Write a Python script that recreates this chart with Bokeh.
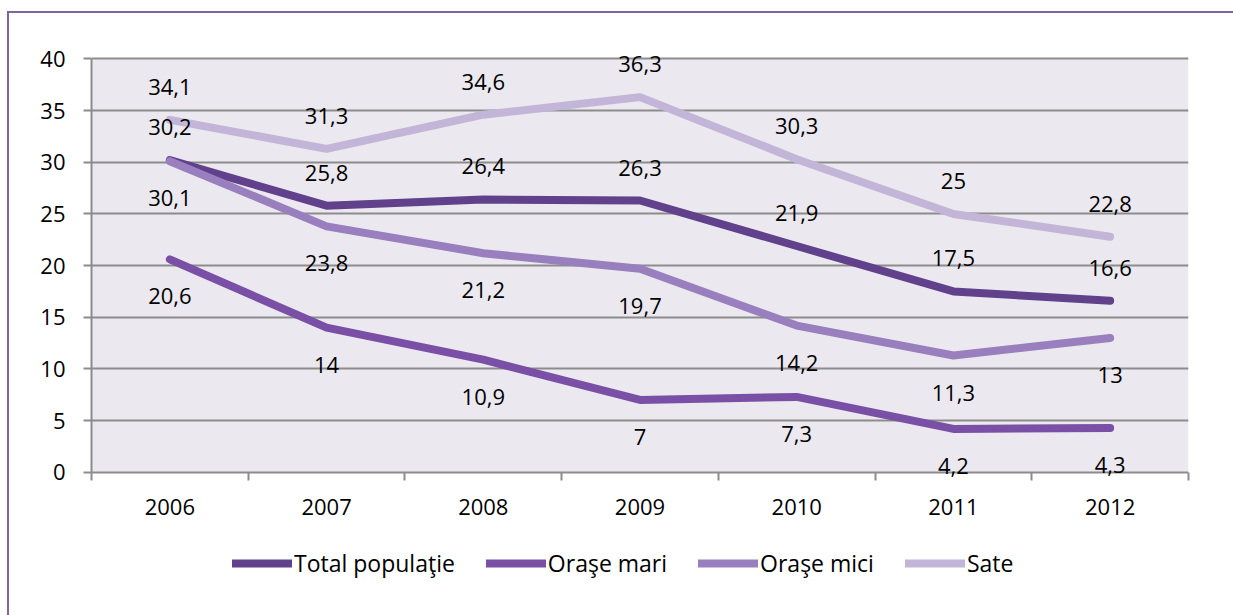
from bokeh.plotting import figure
from bokeh.models import (Range1d, FixedTicker, Legend, LegendItem,
                          ColumnDataSource, BoxAnnotation)
from bokeh.layouts import column
from bokeh.core.properties import value
from bokeh.embed import file_html
from bokeh.resources import INLINE

# ---- data ----
years = [2006, 2007, 2008, 2009, 2010, 2011, 2012]
total_populatie = [30.2, 25.8, 26.4, 26.3, 21.9, 17.5, 16.6]
orase_mari = [20.6, 14, 10.9, 7, 7.3, 4.2, 4.3]
orase_mici = [30.1, 23.8, 21.2, 19.7, 14.2, 11.3, 13]
sate = [34.1, 31.3, 34.6, 36.3, 30.3, 25, 22.8]
series_names = ["Total populaţie", "Oraşe mari", "Oraşe mici", "Sate"]
y_ticks = [0, 5, 10, 15, 20, 25, 30, 35, 40]

# ---- styles ----
colors = ["#62418C", "#7A4FA6", "#9A7FBE", "#C3B5D8"]
label_offsets = [-33, 37, 37, -33]   # px, positive = down
FONT = "Open Sans"
GRID = "#8C8C8C"
PLOT_BG = "#EBE9EF"

series = [total_populatie, orase_mari, orase_mici, sate]
y_lo, y_hi = y_ticks[0], y_ticks[-1]

p = figure(width=1233, height=535,
           x_range=Range1d(years[0] - 0.5, years[-1] + 0.5),
           y_range=Range1d(y_lo - 0.5, y_hi + 1.2),
           output_backend="svg", toolbar_location=None,
           min_border_left=91, min_border_right=45,
           min_border_top=46, min_border_bottom=58)

p.background_fill_alpha = 0
p.border_fill_alpha = 0
p.outline_line_color = None

# plot-area background only over the value range
p.add_layout(BoxAnnotation(bottom=y_lo, top=y_hi, fill_color=PLOT_BG,
                           fill_alpha=1, line_color=None, level="image"))

p.xgrid.grid_line_color = None
p.ygrid.grid_line_color = GRID
p.ygrid.grid_line_width = 1.8

# y axis
p.yaxis.ticker = FixedTicker(ticks=y_ticks)
p.yaxis.bounds = (y_lo, y_hi)
p.yaxis.axis_line_color = GRID
p.yaxis.axis_line_width = 2
p.yaxis.major_tick_line_color = GRID
p.yaxis.major_tick_line_width = 2
p.yaxis.major_tick_out = 8
p.yaxis.major_tick_in = 0
p.yaxis.minor_tick_line_color = None
p.yaxis.major_label_standoff = 18
p.yaxis.major_label_text_font = FONT
p.yaxis.major_label_text_font_size = "22px"
p.yaxis.major_label_text_color = "black"

# x axis: labels at year centers, ticks at category boundaries
# (the zero grid line serves as the axis line)
boundaries = [y - 0.5 for y in years] + [years[-1] + 0.5]
p.xaxis.ticker = FixedTicker(ticks=years, minor_ticks=boundaries)
p.xaxis.axis_line_color = None
p.xaxis.major_tick_line_color = None
p.xaxis.major_tick_out = 8
p.xaxis.major_tick_in = 0
p.xaxis.minor_tick_line_color = GRID
p.xaxis.minor_tick_line_width = 2
p.xaxis.minor_tick_out = 3
p.xaxis.minor_tick_in = 5
p.xaxis.major_label_standoff = 13
p.xaxis.major_label_text_font = FONT
p.xaxis.major_label_text_font_size = "22px"
p.xaxis.major_label_text_color = "black"

for vals, col in zip(series, colors):
    p.line(years, vals, line_color=col, line_width=8,
           line_cap="round", line_join="round")

for vals, off in zip(series, label_offsets):
    src = ColumnDataSource(dict(x=years, y=vals,
                                t=[f"{v:g}".replace(".", ",") for v in vals]))
    p.text(x="x", y="y", text="t", source=src, y_offset=off,
           text_align="center", text_baseline="middle",
           text_font=value(FONT), text_font_size="22px", text_color="black")

# ---- legend strip (its lines lie outside its own view) ----
lg = figure(width=1233, height=80, x_range=Range1d(0, 1), y_range=Range1d(0, 1),
            output_backend="svg", toolbar_location=None, min_border=0)
lg.axis.visible = False
lg.grid.visible = False
lg.outline_line_color = None
lg.background_fill_alpha = 0
lg.border_fill_alpha = 0

items = []
for name, vals, col in zip(series_names, series, colors):
    r = lg.line(years, vals, line_color=col, line_width=8,
                line_cap="round", line_join="round")
    items.append(LegendItem(label=name, renderers=[r]))

legend = Legend(items=items, orientation="horizontal", location=(141, 36))
legend.label_text_font = FONT
legend.label_text_font_size = "23px"
legend.label_text_color = "black"
legend.glyph_width = 60
legend.glyph_height = 24
legend.label_standoff = 2
legend.spacing = 31
legend.border_line_color = None
legend.background_fill_alpha = 0
legend.margin = 0
legend.padding = 0
lg.add_layout(legend, "center")

layout = column(p, lg, spacing=0)
layout.styles = {"box-shadow": "inset 0 11px 0 0 white, inset 7px 0 0 0 white, "
                               "inset 9px 13px 0 0 #8064A2"}

open("out.html", "w").write(file_html(layout, INLINE))
